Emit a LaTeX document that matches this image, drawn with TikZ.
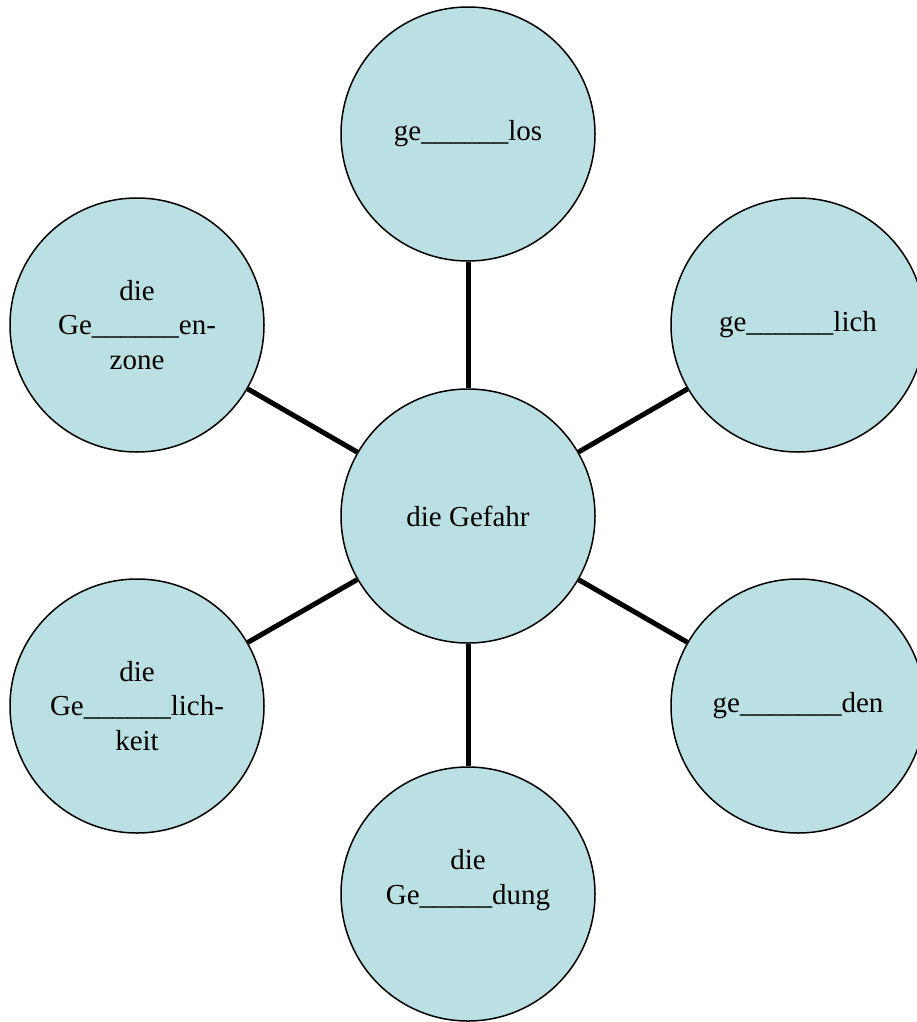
\documentclass[tikz,border=0pt]{standalone}
\usepackage{fontspec}
\setmainfont{Liberation Serif}
\definecolor{bubble}{RGB}{186,224,227}
\newcommand{\blank}[1]{\foreach \i in {1,...,#1}{\_}}
\begin{document}
\begin{tikzpicture}[x=1pt,y=1pt,
  bubble/.style={circle,draw=black,line width=1.5pt,fill=bubble,minimum size=254pt,inner sep=0pt,align=center,
    font=\fontsize{29}{34.5}\selectfont},
  link/.style={line width=5pt}]
\useasboundingbox (0,0) rectangle (917,-1022);
\node[bubble] (c)  at (468,-516) {die Gefahr};
\node[bubble] (t)  at (468,-134) {ge\_\_\_\_\_\_los};
\node[bubble] (ur) at (798,-325) {ge\_\_\_\_\_\_lich};
\node[bubble] (lr) at (798,-706) {ge\_\_\_\_\_\_\_den};
\node[bubble] (b)  at (468,-894) {die\\Ge\_\_\_\_\_dung\\\mbox{}};
\node[bubble] (ll) at (137,-706) {die\\Ge\_\_\_\_\_\_lich-\\keit};
\node[bubble] (ul) at (137,-325) {die\\Ge\_\_\_\_\_\_en-\\zone};
\foreach \n in {t,ur,lr,b,ll,ul} \draw[link] (c) -- (\n);
\end{tikzpicture}
\end{document}
